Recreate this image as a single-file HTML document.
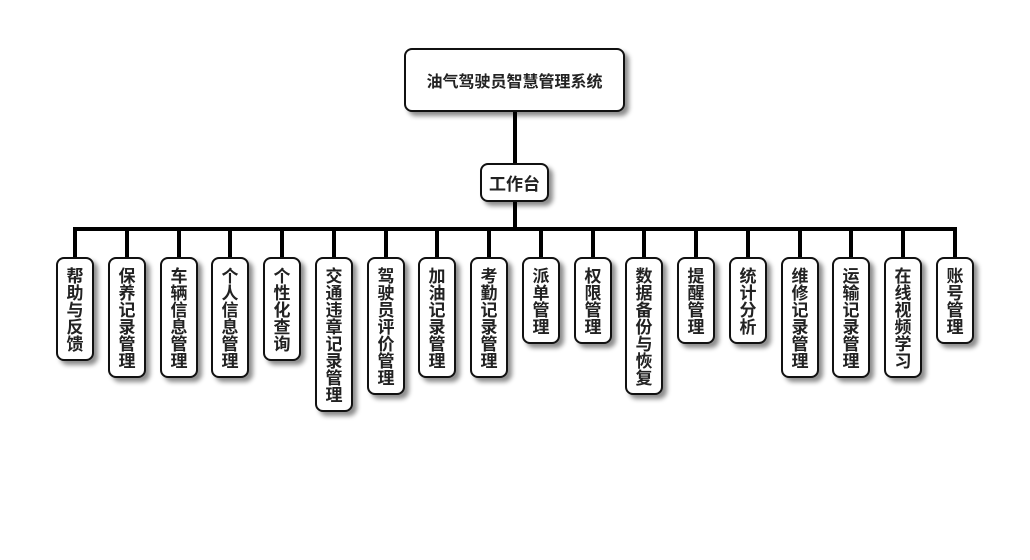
<!DOCTYPE html>
<html><head><meta charset="utf-8"><style>
body{margin:0;background:#fff;width:1030px;height:560px;position:relative;overflow:hidden;font-family:"Liberation Sans","Noto Sans CJK SC",sans-serif;font-weight:bold;color:#222}
.b{position:absolute;box-sizing:border-box;border:2px solid #111;border-radius:8px;background:#fff;box-shadow:4px 4px 5px rgba(0,0,0,.45);display:flex;align-items:center;justify-content:center}
.v{width:38px;top:257px;font-size:17px;line-height:17px;text-align:center;padding:9px 0;align-items:flex-start}
.l{position:absolute;background:#000}
</style></head><body>
<div class="l" style="left:513px;top:110px;width:4px;height:55px"></div>
<div class="l" style="left:513px;top:200px;width:4px;height:30px"></div>
<div class="l" style="left:73px;top:227px;width:884px;height:4px"></div>
<div class="b" style="left:404px;top:48px;width:221px;height:64px;font-size:16px">油气驾驶员智慧管理系统</div>
<div class="b" style="left:480px;top:163px;width:69px;height:39px;font-size:17px">工作台</div>
<div id="c"></div>
<script>
var n=["帮助与反馈","保养记录管理","车辆信息管理","个人信息管理","个性化查询","交通违章记录管理","驾驶员评价管理","加油记录管理","考勤记录管理","派单管理","权限管理","数据备份与恢复","提醒管理","统计分析","维修记录管理","运输记录管理","在线视频学习","账号管理"];
var h="";
for(var i=0;i<n.length;i++){var cx=Math.round(75+i*51.76);
h+='<div class="l" style="left:'+(cx-2)+'px;top:229px;width:4px;height:30px"></div>';
h+='<div class="b v" style="left:'+(cx-19)+'px;height:'+(n[i].length*17+19)+'px">'+n[i].split("").join("<br>")+'</div>';}
document.getElementById("c").innerHTML=h;
</script>
</body></html>
